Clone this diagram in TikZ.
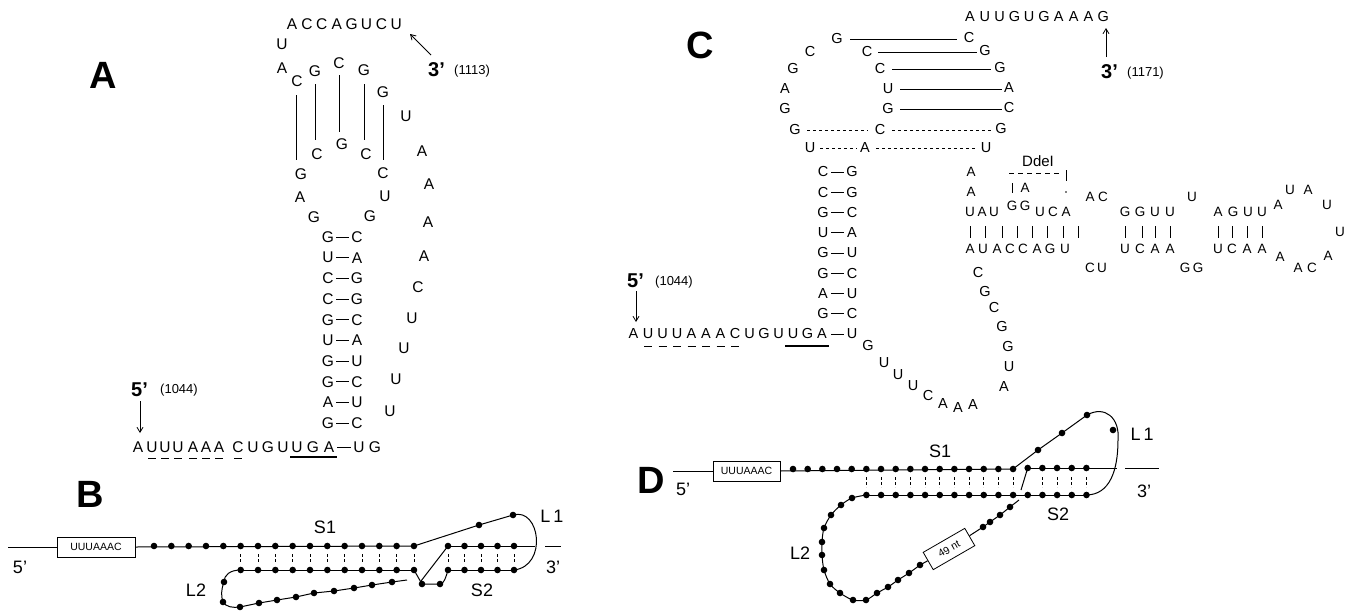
\documentclass[tikz,border=0pt]{standalone}
\usepackage{fontspec}
\setmainfont{Liberation Sans}
\usetikzlibrary{arrows.meta}
\newcommand\ntrow[5]{\foreach \ltr [count=\k from 0] in {#5} \node[#4] at ({#1+\k*#3},#2) {\ltr};}
\newcommand\dotrow[4]{\foreach \k in {0,...,#3} \fill ({#1+\k*#2},#4) circle (3.3pt);}
\begin{document}
\begin{tikzpicture}[x=1pt,y=-1pt,
  na/.style={inner sep=0pt,font=\fontsize{15.5}{15.5}\selectfont},
  nc/.style={inner sep=0pt,font=\fontsize{14.5}{14.5}\selectfont},
  big/.style={inner sep=0pt,font=\fontsize{38}{38}\selectfont\bfseries},
  prime/.style={inner sep=0pt,font=\fontsize{20}{20}\selectfont\bfseries},
  num/.style={inner sep=0pt,font=\fontsize{13}{13}\selectfont},
  lab/.style={inner sep=0pt,font=\fontsize{18}{18}\selectfont},
  bp/.style={line width=0.9pt},
  strand/.style={line width=1pt},
  tick/.style={line width=0.9pt, dash pattern=on 3pt off 2pt},
  seqbox/.style={draw, line width=0.8pt, inner sep=0pt, minimum width=#1, minimum height=20pt, font=\fontsize{10.5}{10.5}\selectfont, fill=white},
  arr/.style={-{Straight Barb[length=5pt,width=6pt]}, line width=0.8pt},
]
\useasboundingbox (0,0) rectangle (1351,613);

%% ================= Panel A =================
\node[big] (labA) at (103,75) {A};
\ntrow{292}{24}{14.9}{na}{A,C,C,A,G,U,C,U}
\foreach \x/\y/\l in {282/44/U,282/68/A,297/81/C,315/71/G,339/63/C,364/70/G,383/92/G,406/116/U,
  422/151/A,429/184/A,428/222/A,424/256/A,418/287/C,412/318/U,404/348/U,396/379/U,390/411/U,
  301/174/G,300/197/A,314/217/G,317/154/C,342/144/G,366/154/C,383/173/C,385/196/U,370/216/G}
  \node[na] at (\x,\y) {\l};
\draw[bp] (296,95) -- (296,160);
\draw[bp] (315,84) -- (315,140);
\draw[bp] (339,75) -- (339,132);
\draw[bp] (364,84) -- (364,140);
\draw[bp] (383,105) -- (383,160);
\foreach \l/\r [count=\k from 0] in {G/C,U/A,C/G,C/G,G/C,U/A,G/U,G/C,A/U,G/C} {
  \node[na] at (328,{237+\k*20.67}) {\l};
  \node[na] at (357,{237+\k*20.67}) {\r};
  \draw[bp] (336,{237+\k*20.67}) -- (349,{237+\k*20.67});
}
\foreach \x/\l in {138/A,152/U,165/U,178/U,193/A,206/A,219/A,238/C,253/U,268/G,283/U,297/U,313/G,329/A,359/U,375/G}
  \node[na] at (\x,447) {\l};
\draw[bp] (337,447) -- (351,447);
\foreach \x in {152,165,178,193,206,219,238} \draw[line width=0.7pt] ({\x-4},458) -- ({\x+4},458);
\draw[line width=1.6pt] (290,457) -- (337,457);
\node[prime,anchor=west] (a5) at (131,390) {5'};
\node[num,anchor=west] at (160,390) {(1044)};
\coordinate (a5e) at (140,433);
\draw[arr] (140,401) -- (a5e);
\node[prime,anchor=west] (a3) at (428,70) {3'};
\node[num,anchor=west] at (454,71) {(1113)};
\coordinate (a3e) at (410,34);
\draw[arr] (431,55) -- (a3e);

%% ================= Panel B =================
\node[big] (labB) at (90,494) {B};
\node[seqbox=78pt] (bbox) at (96,547) {UUUAAAC};
\draw[strand] (8,547) -- (bbox.west);
\node[lab] at (20,567) {5'};
\draw[strand] (bbox.east) -- (414,546);
\dotrow{154}{17.33}{15}{546}
\draw[strand] (240.7,570) -- (414,570);
\dotrow{240.7}{17.33}{10}{570}
\foreach \k in {5,...,15} \draw[tick] ({154+\k*17.33},554) -- ({154+\k*17.33},563);
\draw[strand] (240.7,570) .. controls (230,570) and (224,575) .. (224,582)
  .. controls (221,590) and (221,596) .. (223,602) .. controls (226,607) and (233,608) .. (240,607)
  -- (259,603) -- (277,600) -- (296,597) -- (314,593) -- (334,591) -- (354,588) -- (372,585) -- (392,582) -- (407,580);
\foreach \x/\y in {224/582,223/602,240/607,259/603,277/600,296/597,314/593,334/591,354/588,372/585,392/582}
  \fill (\x,\y) circle (3.3pt);
\draw[strand] (414,546) -- (479,525) -- (513,515) .. controls (540,507) and (548,566) .. (514,570);
\fill (479,525) circle (3.3pt); \fill (513,515) circle (3.3pt);
\draw[strand] (448,546) -- (535,546);
\draw[strand] (545,546) -- (561,546);
\dotrow{448}{16.5}{4}{546}
\draw[strand] (448,570) -- (514,570);
\dotrow{448}{16.5}{4}{570}
\foreach \k in {0,...,4} \draw[tick] ({448+\k*16.5},554) -- ({448+\k*16.5},563);
\draw[strand] (414,570) -- (422,584) -- (440,584) .. controls (444,584) and (446,577) .. (448,570);
\fill (422,584) circle (3.3pt); \fill (440,584) circle (3.3pt);
\draw[strand] (448,546) -- (421,581);
\node[lab] at (325,527) {S1};
\node[lab] at (196,590) {L2};
\node[lab] at (482,590) {S2};
\node[lab] at (552,516) {L\,1};
\node[lab] at (553,567) {3'};

%% ================= Panel C =================
\node[big] (labC) at (700,45) {C};
\ntrow{970}{17}{14.8}{nc}{A,U,U,G,U,G,A,A,A,G}
\foreach \x/\y/\l in {837/39/G,810/52/C,793/69/G,785/89/A,785/109/G,795/130/G,810/148/U,
  867/52/C,880/69/C,888/89/U,888/109/G,880/130/C,865/148/A,
  969/38/C,985/51/G,1000/68/G,1009/88/A,1009/108/C,1001/129/G,986/148/U}
  \node[nc] at (\x,\y) {\l};
\draw[bp] (850,39) -- (957,39);
\draw[bp] (878,52) -- (977,52);
\draw[bp] (892,69) -- (991,69);
\draw[bp] (900,89) -- (1002,89);
\draw[bp] (900,109) -- (1002,109);
\draw[bp,dashed] (807,130) -- (868,130);
\draw[bp,dashed] (892,130) -- (991,130);
\draw[bp,dashed] (820,148) -- (857,148);
\draw[bp,dashed] (876,148) -- (977,148);
\foreach \l/\r [count=\k from 0] in {C/G,C/G,G/C,U/A,G/U,G/C,A/U,G/C} {
  \node[nc] at (823,{172+\k*20.25}) {\l};
  \node[nc] at (852,{172+\k*20.25}) {\r};
  \draw[bp] (831,{172+\k*20.25}) -- (844,{172+\k*20.25});
}
\ntrow{633.5}{334}{14.5}{nc}{A,U,U,U,A,A,A,C,U,G,U,U,G,A}
\node[nc] at (852,334) {U};
\draw[bp] (831,334) -- (844,334);
\foreach \k in {1,...,7} \draw[line width=0.7pt] ({633.5+\k*14.5-4},346) -- ({633.5+\k*14.5+4},346);
\draw[line width=1.6pt] (785,346) -- (829,346);
\node[prime,anchor=west] (c5) at (627,281) {5'};
\node[num,anchor=west] at (655,282) {(1044)};
\coordinate (c5e) at (636,322);
\draw[arr] (636,291) -- (c5e);
\node[prime,anchor=west] (c3) at (1101,72) {3'};
\node[num,anchor=west] at (1127,73) {(1171)};
\coordinate (c3e) at (1106,28);
\draw[arr] (1106,57) -- (c3e);
\foreach \x/\y/\l in {868/346/G,884/363/U,898/375/U,913/386/U,928/396/C,943/404/A,958/408/A,973/405/A,
  1004/387/A,1009/367/U,1008/347/G,1002/327/G,994/308/C,985/292/G,978/273/C}
  \node[nc] at (\x,\y) {\l};
\begin{scope}[every node/.style={inner sep=0pt,font=\fontsize{13.5}{13.5}\selectfont}]
\foreach \x/\y/\l in {971/172/A,971/192/A,970/212/U,982/212/A,994/212/U,1012/206/G,1025/206/G,1040/212/U,1053/212/C,1066/212/A,
  1025/188/A,1090/197/A,1103/197/C,1125/212/G,1140/212/G,1155/212/U,1170/212/U,1192/197/U,
  1218/212/A,1233/212/G,1248/212/U,1262/212/U,1278/205/A,1290/190/U,1308/190/A,1327/205/U,1340/232/U,
  1328/256/A,1312/268/C,1298/268/A,1280/257/A,1262/249/A,1247/249/A,1232/249/C,1218/249/U,
  1198/268/G,1185/268/G,1170/249/A,1155/249/A,1140/249/C,1125/249/U,1102/268/U,1090/268/C,
  970/249/A,983/249/U,997/249/A,1010/249/C,1023/249/C,1037/249/A,1050/249/G,1065/249/U}
  \node at (\x,\y) {\l};
\node[font=\fontsize{15}{15}\selectfont] (ddei) at (1038,161) {DdeI};
\end{scope}
\foreach \x in {970,985,1002,1017,1032,1047,1063,1078,1125,1142,1155,1170,1218,1232,1247,1262}
  \draw[bp] (\x,226) -- (\x,238);
\draw[line width=0.7pt,dash pattern=on 5pt off 4pt] (1009,173) -- (1062,173);
\draw[line width=0.7pt] (1066,170) -- (1066,181);
\draw[line width=0.7pt] (1012,183) -- (1012,193);
\fill (1066,192) circle (0.9pt);

%% ================= Panel D =================
\node[big] (labD) at (651,480) {D};
\node[seqbox=67pt] (dbox) at (746.5,471) {UUUAAAC};
\draw[strand] (673,471) -- (dbox.west);
\node[lab] at (683,489) {5'};
\draw[strand] (dbox.east) -- (1013,469);
\dotrow{793}{14.67}{15}{469}
\draw[strand] (866.4,495) -- (1086,495);
\dotrow{866.4}{14.67}{15}{495}
\foreach \k in {0,...,10,12,13,14,15} \draw[tick] ({866.4+\k*14.67},477) -- ({866.4+\k*14.67},487);
\draw[strand] (1027.7,468) -- (1117,468);
\draw[strand] (1125,468) -- (1159,468);
\dotrow{1027.7}{14.67}{4}{468}
\draw[strand] (1013,469) -- (1038,450) -- (1062,433) -- (1087,415)
  .. controls (1105,405) and (1120,418) .. (1118,440) .. controls (1118,470) and (1110,495) .. (1086,495);
\foreach \x/\y in {1038/450,1062/433,1087/415,1113/430} \fill (\x,\y) circle (3.3pt);
\draw[strand] (1027.7,468) -- (1021,490);
\node[seqbox=48pt,rotate=30] (nt49) at (949,549) {49~nt};
\draw[strand] (1019,500) -- (1010,507) -- (1000,515) -- (990,522) -- (983,527) -- (nt49);
\foreach \x/\y in {1010/507,1000/515,990/522,983/527} \fill (\x,\y) circle (3.3pt);
\draw[strand] (nt49) -- (920,565);
\draw[strand] plot[smooth] coordinates {(920,565) (909,573) (898,580) (888,587) (877,593) (866,600) (853,600) (840,593) (830,584) (824,570) (822,555) (822,542) (824,528) (831,515) (841,505) (852,498) (866.4,495)};
\foreach \x/\y in {920/565,909/573,898/580,888/587,877/593,866/600,853/600,840/593,830/584,824/570,822/555,822/542,824/528,831/515,841/505,852/498}
  \fill (\x,\y) circle (3.3pt);
\node[lab] at (940,451) {S1};
\node[lab] at (1058,514) {S2};
\node[lab] at (800,553) {L2};
\node[lab] at (1142,434) {L\,1};
\node[lab] at (1144,491) {3'};
\end{tikzpicture}
\end{document}
